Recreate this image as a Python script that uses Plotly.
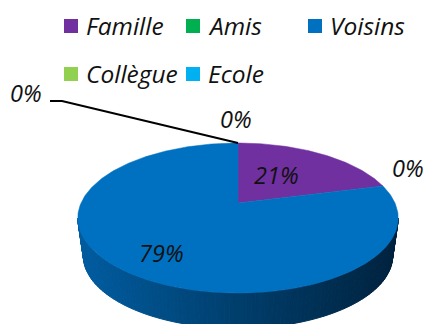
import math
import plotly.graph_objects as go

categories = ["Famille", "Amis", "Voisins", "Collègue", "Ecole"]
values = [21, 0, 79, 0, 0]
colors = ["#7030A0", "#00B050", "#0070C0", "#92D050", "#00B0F0"]

W, H = 425, 324
CX, APEX_Y, RX, RY, P = 238, 203, 157, 72, 0.2
FONT = "Open Sans"
TXT = "#111111"


def top(phi):
    """Project a pie angle (radians clockwise from 12 o'clock) onto the tilted top face."""
    u, v = math.sin(phi), math.cos(phi)
    w = 1 + P * v
    return CX + RX * u / w, APEX_Y - RY * v / w


def bottom(phi):
    x, y = top(phi)
    return CX + (x - CX) * 0.965, 256 + (y - 218) * 0.965


def lerp_color(t):
    stops = [(0.0, (0, 92, 160)), (0.5, (0, 62, 108)), (1.0, (0, 34, 62))]
    for (a, ca), (b, cb) in zip(stops, stops[1:]):
        if t <= b:
            f = (t - a) / (b - a)
            return "rgb(%d,%d,%d)" % tuple(round(p + (q - p) * f) for p, q in zip(ca, cb))
    return "rgb(0,34,62)"


fig = go.Figure()

# side wall of the cylinder, as narrow strips with a horizontal gradient
tangent = math.asin(0.2)
start = math.pi / 2 + tangent
end = 3 * math.pi / 2 - tangent
N = 120
for i in range(N):
    a = start + (end - start) * i / N
    b = start + (end - start) * (i + 1) / N
    pts = [top(a), top(b), bottom(b), bottom(a)]
    xs = [p[0] for p in pts] + [pts[0][0]]
    ys = [p[1] for p in pts] + [pts[0][1]]
    t = (sum(xs[:4]) / 4 - (CX - RX)) / (2 * RX)
    col = lerp_color(max(0, min(1, t)))
    fig.add_trace(go.Scatter(x=xs, y=ys, mode="lines", fill="toself", fillcolor=col,
                             line=dict(color=col, width=1), hoverinfo="skip", showlegend=False))

# top face slices, computed from the values
total = sum(values)
cum = 0
for name, val, col in zip(categories, values, colors):
    a0 = 2 * math.pi * cum / total
    cum += val
    a1 = 2 * math.pi * cum / total
    if val == 0:
        continue
    n = max(2, int(val * 4))
    arc = [top(a0 + (a1 - a0) * k / n) for k in range(n + 1)]
    xs = [CX] + [p[0] for p in arc] + [CX]
    ys = [APEX_Y] + [p[1] for p in arc] + [APEX_Y]
    fig.add_trace(go.Scatter(x=xs, y=ys, mode="lines", fill="toself", fillcolor=col,
                             line=dict(color=col, width=0.5), name=name, showlegend=False))

# leader line for the first zero label
fig.add_trace(go.Scatter(x=[50, 62, 238], y=[101, 101, 143], mode="lines",
                         line=dict(color="black", width=2), hoverinfo="skip", showlegend=False))

# legend, laid out as in the reference
legend_x = [71, 193, 315, 71, 193]
legend_y = [26, 26, 26, 74, 74]
for name, col, lx, ly in zip(categories, colors, legend_x, legend_y):
    fig.add_trace(go.Scatter(x=[lx], y=[ly], mode="markers",
                             marker=dict(symbol="square", size=14, color=col, line=dict(width=0)),
                             name=name, showlegend=False))
    fig.add_annotation(x=lx + 13, y=ly - 1, text=f"<i>{name}</i>", showarrow=False, xanchor="left",
                       yanchor="middle", font=dict(family=FONT, size=24.5, color=TXT))

# data labels
label_x = [26, 236, 161, 408, 27]
label_y = [93, 119, 253, 168, 93]
label_x = [276, 236, 161, 408, 26]
label_y = [175, 119, 253, 168, 93]
for val, lx, ly in zip(values, label_x, label_y):
    fig.add_annotation(x=lx, y=ly, text=f"<i>{val}%</i>", showarrow=False, xanchor="center",
                       yanchor="middle", font=dict(family=FONT, size=23.5, color=TXT))

fig.update_layout(
    width=W, height=H, margin=dict(l=0, r=0, t=0, b=0),
    paper_bgcolor="white", plot_bgcolor="white", showlegend=False,
    xaxis=dict(range=[0, W], visible=False, fixedrange=True),
    yaxis=dict(range=[H, 0], visible=False, fixedrange=True),
)
fig.write_html("out.html", config={"displayModeBar": False},
               post_script="document.body.style.margin='0';document.documentElement.style.overflow='hidden';")
